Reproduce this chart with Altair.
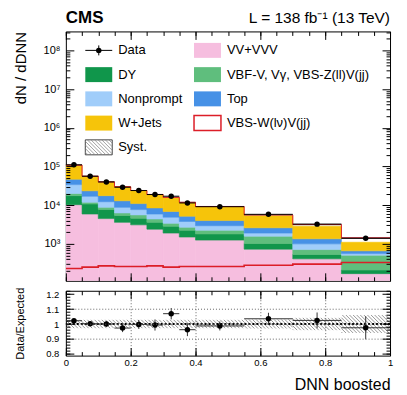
import altair as alt
import numpy as np
import pandas as pd

# ---------------- data ----------------
edges = [0.0, 0.05, 0.10, 0.15, 0.20, 0.25, 0.30, 0.35, 0.40, 0.55, 0.70, 0.85, 1.0]
vv_vvv = [10300, 5900, 4500, 3600, 3100, 2400, 1900, 1500, 1250, 730, 410, 170]
dy = [7300, 4800, 3200, 1800, 1500, 1200, 950, 750, 550, 290, 120, 40]
vbf_v = [2400, 1200, 1100, 900, 1000, 800, 550, 450, 450, 560, 180, 300]
nonprompt = [14000, 5100, 3500, 2500, 2100, 1500, 1500, 1100, 700, 320, 290, 50]
top_bkg = [13000, 6500, 5300, 4200, 3300, 2600, 2000, 1400, 1050, 700, 350, 100]
wjets = [61000, 32200, 22100, 16700, 12700, 10200, 8800, 6400, 5000, 2720, 1510, 440]
signal = [230, 250, 270, 260, 260, 270, 250, 260, 260, 280, 300, 330]
data_obs = [110600, 56060, 39970, 29150, 23890, 18840, 17050, 11410, 9140, 5796, 3236, 1394]
ratio_unc = [0.010, 0.010, 0.019, 0.027, 0.030, 0.037, 0.038, 0.043, 0.030, 0.040, 0.053, 0.077]
syst_unc = [0.028, 0.028, 0.028, 0.028, 0.028, 0.028, 0.028, 0.028, 0.028, 0.030, 0.041, 0.060]

procs = ["VV+VVV", "DY", "VBF-V, Vγ, VBS-Z(ll)V(jj)", "Nonprompt", "Top", "W+Jets"]
proc_colors = ["#f6bedf", "#10964b", "#5fbe7d", "#a0cdfa", "#4691e6", "#f6c40a"]
RED = "#dc1e28"

x_major = [0.0, 0.2, 0.4, 0.6, 0.8, 1.0]
x_minor = [round(0.05 * i, 2) for i in range(21)]
ym_major = [1e3, 1e4, 1e5, 1e6, 1e7, 1e8]
ym_minor = [m * 10.0 ** k for k in range(2, 9) for m in range(2, 10) if 111 <= m * 10.0 ** k <= 3.1e8]
yr_major = [0.8, 0.9, 1.0, 1.1, 1.2]
yr_minor = [round(0.8 + 0.02 * i, 2) for i in range(22)]

# ---------------- tables ----------------
lo = np.array(edges[:-1])
hi = np.array(edges[1:])
rows = []
cum = np.zeros(len(lo))
for name, vals in zip(procs, [vv_vvv, dy, vbf_v, nonprompt, top_bkg, wjets]):
    base = cum.copy()
    cum = cum + np.array(vals, dtype=float)
    for i in range(len(lo)):
        rows.append(dict(lo=lo[i], hi=hi[i], y0=max(base[i], 1.0), y1=cum[i], proc=name))
stack_df = pd.DataFrame(rows)
total = cum + np.array(signal, dtype=float)

bins = pd.DataFrame(dict(lo=lo, hi=hi, mid=(lo + hi) / 2, total=total,
                         data=np.array(data_obs, dtype=float)))
bins["ratio"] = bins["data"] / bins["total"]
bins["rlo"] = bins["ratio"] - np.array(ratio_unc)
bins["rhi"] = bins["ratio"] + np.array(ratio_unc)
bins["slo"] = bins["total"] * (1 - np.array(syst_unc))
bins["shi"] = bins["total"] * (1 + np.array(syst_unc))
bins["blo"] = 1 - np.array(syst_unc)
bins["bhi"] = 1 + np.array(syst_unc)

step_df = pd.DataFrame(dict(x=edges, sig=signal + [signal[-1]], tot=list(total) + [total[-1]]))

W, HM, HR = 325, 250, 65
YR_DOM = [0.789, 1.222]
X_SC = alt.Scale(domain=[0, 1], nice=False, zero=False)
YM_SC = alt.Scale(type="log", domain=[111, 3.1e8], nice=False)
YR_SC = alt.Scale(domain=YR_DOM, nice=False, zero=False)


def hatch(los, his, ylos, yhis, xpx, ypx, spacing=3.6):
    segs = []
    for l, h, yl, yh in zip(los, his, ylos, yhis):
        L, R = l * xpx, h * xpx
        H = (yh - yl) * ypx
        for k in range(int(np.floor((L - H) / spacing)) - 1, int(np.ceil(R / spacing)) + 1):
            a = k * spacing
            xs, xe = max(a, L), min(a + H, R)
            if xe - xs > 0.3:
                segs.append(dict(x1=xs / xpx, x2=xe / xpx,
                                 y1=yh - (xs - a) / ypx, y2=yh - (xe - a) / ypx))
    return pd.DataFrame(segs)


hatch_df = hatch(bins["lo"], bins["hi"], bins["blo"], bins["bhi"], W, HR / (YR_DOM[1] - YR_DOM[0]))

BASE = dict(domain=False, grid=False, zindex=2, tickColor="black", tickWidth=1,
            labelFlush=False, labelOverlap=False)


def tick_axis(orient, values, size, **kw):
    d = {**BASE, "orient": orient, "values": values, "tickSize": size, "offset": -size,
         "labels": False, "title": None}
    d.update(kw)
    return alt.Axis(**d)


def carrier(df, xf, yf, ysc, xaxis, yaxis):
    return alt.Chart(df).mark_point(opacity=0).encode(
        x=alt.X(f"{xf}:Q", scale=X_SC, axis=xaxis),
        y=alt.Y(f"{yf}:Q", scale=ysc, axis=yaxis))


SUP = "['⁰','¹','²','³','⁴','⁵','⁶','⁷','⁸','⁹']"
proc_scale = alt.Scale(domain=procs, range=proc_colors)

# ---------------- main panel ----------------
stack = alt.Chart(stack_df).mark_rect(clip=True, strokeWidth=0.6).encode(
    x=alt.X("lo:Q", scale=X_SC, axis=None), x2="hi:Q",
    y=alt.Y("y0:Q", scale=YM_SC, axis=None), y2="y1:Q",
    color=alt.Color("proc:N", scale=proc_scale, legend=None),
    stroke=alt.Stroke("proc:N", scale=proc_scale, legend=None))
syst_main = alt.Chart(bins).mark_rect(color="#444444", opacity=0.55, clip=True).encode(
    x=alt.X("lo:Q", scale=X_SC, axis=None), x2="hi:Q",
    y=alt.Y("slo:Q", scale=YM_SC, axis=None), y2="shi:Q")
tot_line = alt.Chart(step_df).mark_line(interpolate="step-after", color=RED, strokeWidth=1, clip=True).encode(
    x=alt.X("x:Q", scale=X_SC, axis=None), y=alt.Y("tot:Q", scale=YM_SC, axis=None))
sig_line = alt.Chart(step_df).mark_line(interpolate="step-after", color=RED, strokeWidth=1.6, clip=True).encode(
    x=alt.X("x:Q", scale=X_SC, axis=None), y=alt.Y("sig:Q", scale=YM_SC, axis=None))
xbar_main = alt.Chart(bins).mark_rule(color="black", strokeWidth=1).encode(
    x=alt.X("lo:Q", scale=X_SC, axis=None), x2="hi:Q", y=alt.Y("data:Q", scale=YM_SC, axis=None))
pts_main = alt.Chart(bins).mark_circle(size=30, color="black", opacity=1).encode(
    x=alt.X("mid:Q", scale=X_SC, axis=None), y=alt.Y("data:Q", scale=YM_SC, axis=None))

m_ax1 = carrier(bins, "mid", "total", YM_SC,
                tick_axis("bottom", x_major, 8),
                tick_axis("left", ym_major, 8, labels=True, labelFontSize=11, labelPadding=6,
                          labelExpr="'10' + " + SUP + "[round(log(datum.value)/LN10)]",
                          title="dN / dDNN", titleFontSize=15, titleX=-48, titleY=0,
                          titleAlign="right", titleAngle=270, titleBaseline="alphabetic"))
m_ax2 = carrier(bins, "mid", "total", YM_SC, tick_axis("bottom", x_minor, 4), tick_axis("left", ym_minor, 4))
m_ax3 = carrier(bins, "mid", "total", YM_SC, tick_axis("top", x_major, 8), tick_axis("right", ym_major, 8))
m_ax4 = carrier(bins, "mid", "total", YM_SC, tick_axis("top", x_minor, 4), tick_axis("right", ym_minor, 4))

one = pd.DataFrame({"k": [0]})
LEG_X = [19.5, 128.5]
LEG_Y0, LEG_DY = 19.0, 24.3
SW_W, SW_H = 27, 15
legend_items = [("Data", "data"), ("VV+VVV", "fill"), ("DY", "fill"),
                ("VBF-V, Vγ, VBS-Z(ll)V(jj)", "fill"), ("Nonprompt", "fill"), ("Top", "fill"),
                ("W+Jets", "fill"), ("VBS-W(lν)V(jj)", "sig"), ("Syst.", "syst")]
legend_layers = []
for i, (label, kind) in enumerate(legend_items):
    x0 = LEG_X[i % 2]
    cy = LEG_Y0 + LEG_DY * (i // 2)
    box = dict(x=alt.value(x0), x2=alt.value(x0 + SW_W), y=alt.value(cy - SW_H / 2), y2=alt.value(cy + SW_H / 2))
    if kind == "fill":
        legend_layers.append(alt.Chart(one).mark_rect(color=proc_colors[procs.index(label)]).encode(**box))
    elif kind == "sig":
        legend_layers.append(alt.Chart(one).mark_rect(fill="white", stroke=RED, strokeWidth=1.5).encode(**box))
    elif kind == "syst":
        legend_layers.append(alt.Chart(one).mark_rect(fill="white", stroke="#444444", strokeWidth=1).encode(**box))
        lh = hatch([x0], [x0 + SW_W], [0], [SW_H], 1, 1, 3.6)
        lh["py1"] = (cy - SW_H / 2) + (SW_H - lh["y1"])
        lh["py2"] = (cy - SW_H / 2) + (SW_H - lh["y2"])
        legend_layers.append(alt.Chart(lh).mark_rule(color="#888888", strokeWidth=0.8).encode(
            x=alt.X("x1:Q", scale=None, axis=None), x2="x2:Q",
            y=alt.Y("py1:Q", scale=None, axis=None), y2="py2:Q"))
    else:
        legend_layers.append(alt.Chart(one).mark_rule(color="black").encode(
            x=alt.value(x0), x2=alt.value(x0 + SW_W), y=alt.value(cy)))
        legend_layers.append(alt.Chart(one).mark_rule(color="black").encode(
            x=alt.value(x0 + SW_W / 2), y=alt.value(cy - 5), y2=alt.value(cy + 5)))
        legend_layers.append(alt.Chart(one).mark_circle(size=30, color="black", opacity=1).encode(
            x=alt.value(x0 + SW_W / 2), y=alt.value(cy)))
    legend_layers.append(alt.Chart(one).mark_text(align="left", baseline="middle", fontSize=13, color="black").encode(
        x=alt.value(x0 + 33), y=alt.value(cy), text=alt.value(label)))

cms = alt.Chart(one).mark_text(align="left", baseline="alphabetic", fontSize=17, fontWeight="bold", color="black").encode(
    x=alt.value(0), y=alt.value(-8), text=alt.value("CMS"))
lumi = alt.Chart(one).mark_text(align="right", baseline="alphabetic", fontSize=15.5, color="black").encode(
    x=alt.value(W), y=alt.value(-8), text=alt.value("L = 138 fb⁻¹ (13 TeV)"))

main = alt.layer(stack, syst_main, tot_line, sig_line, xbar_main, pts_main,
                 m_ax1, m_ax2, m_ax3, m_ax4, *legend_layers, cms, lumi
                 ).resolve_axis(x="independent", y="independent").properties(width=W, height=HM)

# ---------------- ratio panel ----------------
hatch_r = alt.Chart(hatch_df).mark_rule(color="#8c8c8c", strokeWidth=0.9, clip=True).encode(
    x=alt.X("x1:Q", scale=X_SC, axis=None), x2="x2:Q",
    y=alt.Y("y1:Q", scale=YR_SC, axis=None), y2="y2:Q")
grid_r = carrier(bins, "mid", "ratio", YR_SC,
                 alt.Axis(orient="bottom", values=[0.2, 0.4, 0.6, 0.8], grid=True, ticks=False, labels=False,
                          domain=False, gridDash=[1, 2], gridColor="#666666", gridWidth=1, title=None, zindex=1),
                 alt.Axis(orient="left", values=[0.9, 1.0, 1.1], grid=True, ticks=False, labels=False,
                          domain=False, gridDash=[1, 2], gridColor="#666666", gridWidth=1, title=None, zindex=1))
ref_df = pd.DataFrame({"one": [1.0]})
ref_line = alt.Chart(ref_df).mark_rule(color="black", strokeDash=[2, 2], strokeWidth=1.8).encode(
    y=alt.Y("one:Q", scale=YR_SC, axis=None))
xbar_r = alt.Chart(bins).mark_rule(color="#333333", strokeWidth=1).encode(
    x=alt.X("lo:Q", scale=X_SC, axis=None), x2="hi:Q", y=alt.Y("ratio:Q", scale=YR_SC, axis=None))
ybar_r = alt.Chart(bins).mark_rule(color="#333333", strokeWidth=1).encode(
    x=alt.X("mid:Q", scale=X_SC, axis=None), y=alt.Y("rlo:Q", scale=YR_SC, axis=None), y2="rhi:Q")
pts_r = alt.Chart(bins).mark_circle(size=30, color="black", opacity=1).encode(
    x=alt.X("mid:Q", scale=X_SC, axis=None), y=alt.Y("ratio:Q", scale=YR_SC, axis=None))

r_ax1 = carrier(bins, "mid", "ratio", YR_SC,
                tick_axis("bottom", x_major, 8, labels=True, format="~g", labelFontSize=9.5, labelPadding=2,
                          title="DNN boosted", titleFontSize=16, titleX=W, titleY=42,
                          titleAlign="right", titleBaseline="alphabetic"),
                tick_axis("left", yr_major, 8, labels=True, format="~g", labelFontSize=9.5, labelPadding=7,
                          title="Data/Expected", titleFontSize=11, titleX=-50.5, titleY=HR / 2,
                          titleAlign="center", titleAngle=270, titleBaseline="alphabetic"))
r_ax2 = carrier(bins, "mid", "ratio", YR_SC, tick_axis("bottom", x_minor, 4), tick_axis("left", yr_minor, 4))
r_ax3 = carrier(bins, "mid", "ratio", YR_SC, tick_axis("top", x_major, 8), tick_axis("right", yr_major, 8))
r_ax4 = carrier(bins, "mid", "ratio", YR_SC, tick_axis("top", x_minor, 4), tick_axis("right", yr_minor, 4))

ratio = alt.layer(hatch_r, grid_r, ref_line, xbar_r, ybar_r, pts_r, r_ax1, r_ax2, r_ax3, r_ax4
                  ).resolve_axis(x="independent", y="independent").properties(width=W, height=HR)

chart = alt.vconcat(main, ratio, spacing=10, bounds="flush").properties(
    padding={"left": 5, "right": 5, "top": 0, "bottom": 0}
).configure(font="Liberation Sans").configure_view(stroke="black", strokeWidth=1).configure_axis(
    labelColor="black", titleColor="black", titleFontWeight="normal")

chart.save("out.html", embed_options={"renderer": "svg", "actions": False})
